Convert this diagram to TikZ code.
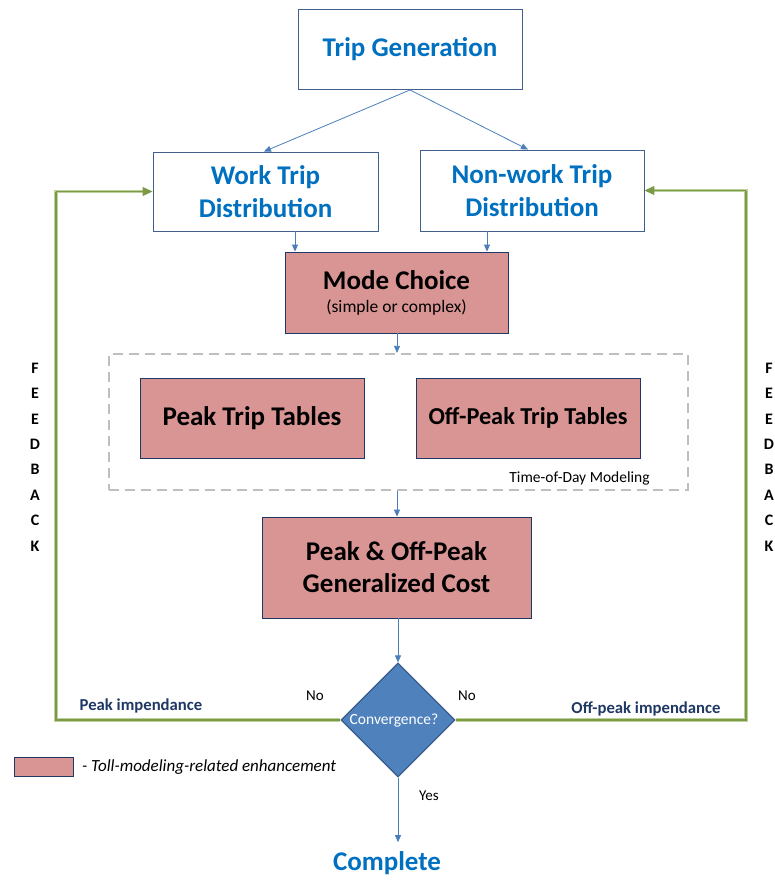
\documentclass[tikz,border=0pt]{standalone}
\usepackage{fontspec}
\setmainfont{Carlito}
\usetikzlibrary{shapes.geometric,arrows.meta,calc}
\definecolor{boxline}{HTML}{41608E}
\definecolor{titleblue}{HTML}{0070C0}
\definecolor{pinkfill}{HTML}{D99594}
\definecolor{pinkline}{HTML}{1F3864}
\definecolor{arrowblue}{HTML}{4A7EBB}
\definecolor{diafill}{HTML}{4F81BD}
\definecolor{dialine}{HTML}{385D8A}
\definecolor{fbgreen}{HTML}{7C9A45}
\definecolor{fblight}{HTML}{BCD09C}
\definecolor{navy}{HTML}{1F3864}
\definecolor{dashgray}{HTML}{BFBFBF}
\tikzset{
  bluebox/.style={draw=boxline, line width=0.9pt, fill=white, rectangle, inner sep=0pt, align=center,
    text=titleblue, font=\fontsize{27}{33}\selectfont\bfseries},
  pinkbox/.style={draw=pinkline, line width=0.8pt, fill=pinkfill, rectangle, inner sep=0pt, align=center,
    text=black, font=\fontsize{27}{32}\selectfont\bfseries},
  arr/.style={draw=arrowblue, line width=0.8pt, -{Triangle[width=6pt,length=7pt]}},
  fbouter/.style={draw=fblight, line width=3.4pt},
  fbinner/.style={draw=fbgreen, line width=1.1pt},
  fbtip/.style={draw=fbgreen, line width=1.1pt, -{Triangle[width=9pt,length=10pt]}},
  fbletters/.style={align=center, font=\fontsize{16}{25.4}\selectfont\bfseries, inner sep=0pt},
  smalltext/.style={inner sep=0pt, font=\fontsize{15}{17}\selectfont},
  imptext/.style={inner sep=0pt, text=navy, font=\fontsize{16.7}{18}\selectfont\bfseries},
}
\begin{document}
\begin{tikzpicture}[x=1pt,y=-1pt]
\useasboundingbox (0,0) rectangle (775,880);

% dashed time-of-day box
\node[draw=dashgray, line width=2.2pt, dash pattern=on 10pt off 6pt, rectangle, minimum width=579pt, minimum height=136pt, inner sep=0pt] (tod) at (398.5,422) {};
\node[inner sep=0pt, font=\fontsize{15.5}{17}\selectfont] (todtxt) at (579.5,478) {Time-of-Day Modeling};

% boxes
\node[bluebox, minimum width=224pt, minimum height=80pt] (tg) at (410,49.5) {Trip Generation};
\node[bluebox, minimum width=225pt, minimum height=79pt] (work) at (265.5,191.5) {Work Trip\\Distribution};
\node[bluebox, minimum width=224pt, minimum height=81pt] (nonwork) at (532,190.5) {Non-work Trip\\Distribution};
\node[pinkbox, minimum width=223pt, minimum height=81pt] (mode) at (396.5,292.5)
  {Mode Choice\\[-9pt]{\fontsize{17.5}{20}\selectfont\mdseries (simple or complex)}};
\node[pinkbox, minimum width=224pt, minimum height=80pt] (peak) at (252,418) {Peak Trip Tables};
\node[pinkbox, minimum width=224pt, minimum height=80pt, font=\fontsize{24.3}{30}\selectfont\bfseries] (offpeak) at (528,418) {Off-Peak Trip Tables};
\node[pinkbox, minimum width=269pt, minimum height=101pt] (cost) at (396.5,567.5) {Peak \& Off-Peak\\Generalized Cost};

% diamond
\node[diamond, draw=dialine, line width=1.2pt, fill=diafill, minimum width=114pt, minimum height=114pt, aspect=1, inner sep=0pt] (conv) at (398,720) {};
\node[text=white, inner sep=0pt, font=\fontsize{15.5}{17}\selectfont] (convtxt) at (394,721) {Convergence?};

\node[inner sep=0pt, text=titleblue, font=\fontsize{27}{30}\selectfont\bfseries] (complete) at (387,863) {Complete};

% blue arrows
\draw[arr] (tg.south) -- ($(work.north)+(-1.5,0)$);
\draw[arr] (tg.south) -- ($(nonwork.north)+(-4,0)$);
\draw[arr] ([xshift=29.5pt]work.south) -- ([xshift=29.5pt]work.south |- mode.north);
\draw[arr] ([xshift=-45pt]nonwork.south) -- ([xshift=-45pt]nonwork.south |- mode.north);
\draw[arr] ([xshift=0.5pt]mode.south) -- ([xshift=0.5pt]mode.south |- tod.north);
\draw[arr] ([xshift=-1.5pt]tod.south) -- ([xshift=-1.5pt]tod.south |- cost.north);
\draw[arr] ([xshift=1.5pt]cost.south) -- (conv.north);
\draw[arr] (conv.south) -- ([yshift=9pt]complete.north -| conv.south);

% feedback loops
\coordinate (lb) at (56,720);
\coordinate (lt) at (56,191.5);
\coordinate (rb) at (746,720);
\coordinate (rt) at (746,190.5);
\draw[fbouter] (conv.west) -- (lb) -- (lt) -- ([xshift=-8pt]work.west);
\draw[fbouter] (conv.east) -- (rb) -- (rt) -- ([xshift=8pt]nonwork.east);
\draw[fbinner] (conv.west) -- (lb) -- (lt);
\draw[fbinner] (conv.east) -- (rb) -- (rt);
\draw[fbtip] (lt) -- (work.west);
\draw[fbtip] (rt) -- (nonwork.east);

% labels
\node[smalltext] (noL) at (315,696) {No};
\node[smalltext] (noR) at (467,696) {No};
\node[smalltext] (yes) at (429,796) {Yes};
\node[imptext] (pimp) at (141,706) {Peak impendance};
\node[imptext] (opimp) at (646,709) {Off-peak impendance};

\node[fbletters] (fbL) at (35,457) {F\\E\\E\\D\\B\\A\\C\\K};
\node[fbletters] (fbR) at (769,457) {F\\E\\E\\D\\B\\A\\C\\K};

% legend
\node[draw=pinkline, line width=0.8pt, fill=pinkfill, minimum width=59pt, minimum height=19pt, inner sep=0pt] (leg) at (43.5,766.5) {};
\node[anchor=west, inner sep=0pt, font=\fontsize{17}{19}\selectfont\itshape] (legtxt) at (82,767) {- Toll-modeling-related enhancement};
\end{tikzpicture}
\end{document}
